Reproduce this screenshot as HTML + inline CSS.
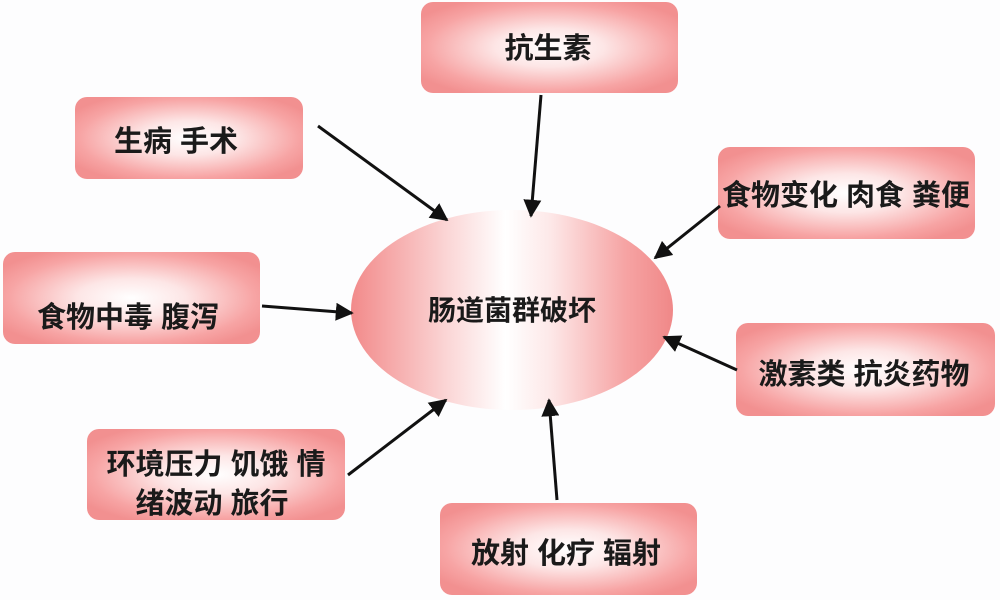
<!DOCTYPE html>
<html><head><meta charset="utf-8"><style>
html,body{margin:0;padding:0;background:#fdfdfe;width:1000px;height:600px;overflow:hidden}
svg text{font-family:"Liberation Sans","Noto Sans CJK SC",sans-serif;font-weight:bold;fill:#1a1a1a}
</style></head><body>
<svg width="1000" height="600" viewBox="0 0 1000 600" xmlns="http://www.w3.org/2000/svg">
<defs>
<radialGradient id="bg" cx="0.5" cy="0.5" r="0.6">
<stop offset="0" stop-color="#ffffff"/>
<stop offset="0.35" stop-color="#fde6e6"/>
<stop offset="0.8" stop-color="#f7a4a4"/>
<stop offset="1" stop-color="#f29090"/>
</radialGradient>
<linearGradient id="eg" x1="0" y1="0" x2="1" y2="0">
<stop offset="0" stop-color="#f28a8a"/>
<stop offset="0.3" stop-color="#fbd6d6"/>
<stop offset="0.48" stop-color="#ffffff"/>
<stop offset="0.62" stop-color="#fde8e8"/>
<stop offset="0.85" stop-color="#f6a4a4"/>
<stop offset="1" stop-color="#f08888"/>
</linearGradient>
<marker id="ah" viewBox="0 0 10 10" refX="9" refY="5" markerWidth="6" markerHeight="6" orient="auto">
<path d="M0,0 L10,5 L0,10 z" fill="#111"/>
</marker>
</defs>
<ellipse cx="512" cy="310" rx="161" ry="100" fill="url(#eg)"/>
<text x="512" y="320" font-size="28" text-anchor="middle">肠道菌群破坏</text>

<g fill="url(#bg)">
<rect x="421" y="2" width="257" height="91" rx="12"/>
<rect x="75" y="97" width="228" height="82" rx="12"/>
<rect x="718" y="147" width="257" height="92" rx="12"/>
<rect x="3" y="252" width="257" height="92" rx="12"/>
<rect x="736" y="323" width="259" height="93" rx="12"/>
<rect x="87" y="429" width="258" height="91" rx="12"/>
<rect x="440" y="503" width="257" height="92" rx="12"/>
</g>
<g font-size="29" text-anchor="middle">
<text x="548" y="58">抗生素</text>
<text x="176" y="151">生病 手术</text>
<text x="846" y="205">食物变化 肉食 粪便</text>
<text x="128" y="327">食物中毒 腹泻</text>
<text x="864" y="384">激素类 抗炎药物</text>
<text x="216" y="474">环境压力 饥饿 情</text>
<text x="212" y="513">绪波动 旅行</text>
<text x="566" y="563">放射 化疗 辐射</text>
</g>
<g stroke="#111" stroke-width="3" marker-end="url(#ah)" fill="none">
<line x1="318" y1="126" x2="447" y2="220"/>
<line x1="541" y1="95" x2="531" y2="216"/>
<line x1="720" y1="206" x2="655" y2="258"/>
<line x1="262" y1="306" x2="352" y2="313"/>
<line x1="737" y1="370" x2="664" y2="337"/>
<line x1="348" y1="475" x2="446" y2="400"/>
<line x1="557" y1="500" x2="549" y2="400"/>
</g>
</svg>
</body></html>
